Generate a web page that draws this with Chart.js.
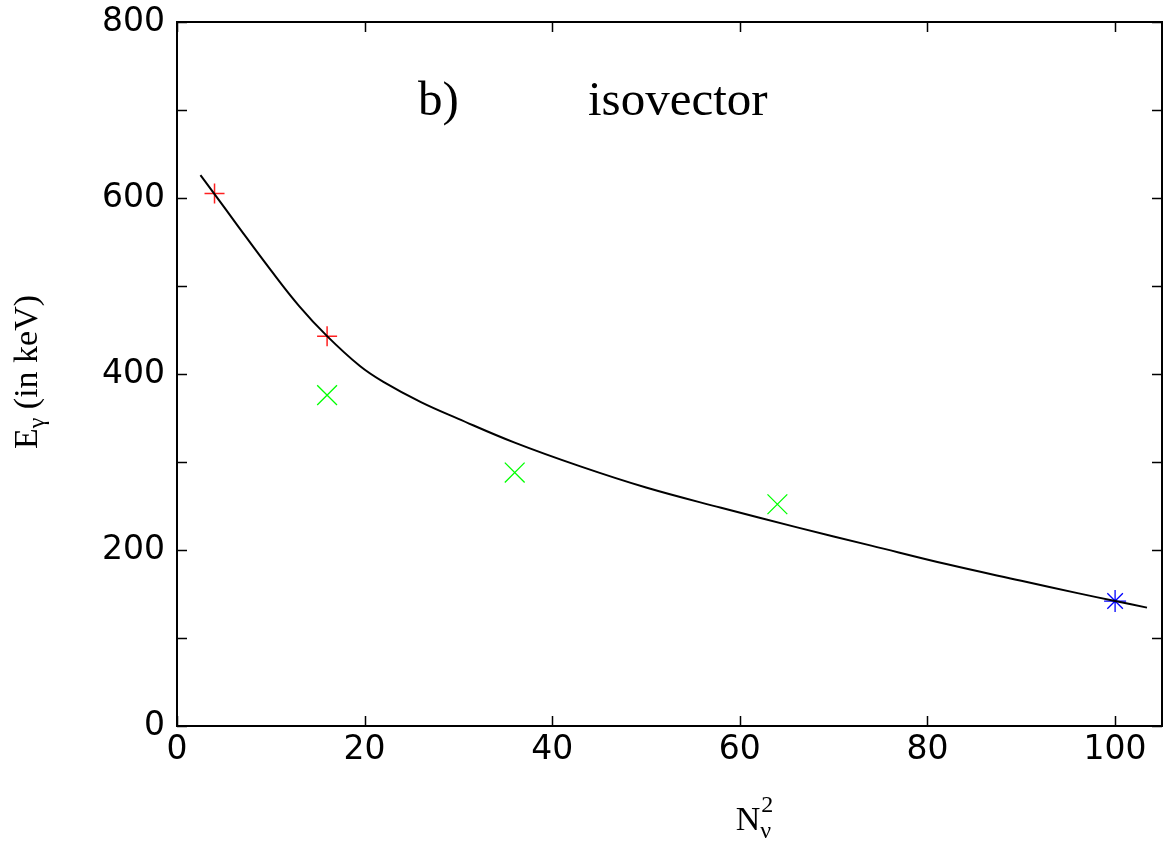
<!DOCTYPE html>
<html>
<head>
<meta charset="utf-8">
<script src="https://cdn.jsdelivr.net/npm/chart.js@4"></script>
<style>
  html, body { margin: 0; padding: 0; background: #fff; overflow: hidden; width: 1164px; height: 848px; }
  #c { display: block; }
</style>
</head>
<body>
<canvas id="c" width="1164" height="848"></canvas>
<script>
// Fitted curve E_gamma(N_nu^2), sampled along the line
const curveX = [2.5, 4, 6.4, 10, 13, 16, 19.5, 22, 26, 30, 36, 43, 50, 58, 66, 74, 82, 90, 96, 100, 103.4];
const curveY = [626, 604.5, 569.5, 518, 477.5, 443, 409, 391, 368, 349, 322, 295, 271, 248, 226, 205, 184, 165, 151, 142, 134.5];

// Measured points, three groups
const plusX = [4, 16];
const plusY = [605, 443];
const crossX = [16, 36, 64];
const crossY = [376, 288, 252];
const starX = [100];
const starY = [142];

// Axis ranges and tick values
const xRange = [0, 105];
const xTicks = [0, 20, 40, 60, 80, 100];
const yRange = [0, 800];
const yTicks = [0, 100, 200, 300, 400, 500, 600, 700, 800];
const yLabelStep = 200;

const toXY = (xs, ys) => xs.map((x, i) => ({ x: x, y: ys[i] }));

// Frame with inward ticks on all four sides, plus the axis titles and annotation
const framePlugin = {
  id: 'frame',
  afterDraw(chart) {
    const { ctx, chartArea: a, scales } = chart;
    const tick = 10;
    ctx.save();
    ctx.strokeStyle = '#000';
    ctx.lineWidth = 1.5;
    ctx.beginPath();
    scales.x.ticks.forEach(t => {
      const px = Math.round(scales.x.getPixelForValue(t.value)) + 0.5;
      ctx.moveTo(px, a.bottom); ctx.lineTo(px, a.bottom - tick);
      ctx.moveTo(px, a.top); ctx.lineTo(px, a.top + tick);
    });
    scales.y.ticks.forEach(t => {
      const py = Math.round(scales.y.getPixelForValue(t.value)) + 0.5;
      ctx.moveTo(a.left, py); ctx.lineTo(a.left + tick, py);
      ctx.moveTo(a.right, py); ctx.lineTo(a.right - tick, py);
    });
    ctx.stroke();
    ctx.lineWidth = 2;
    ctx.strokeRect(a.left, a.top, a.right - a.left, a.bottom - a.top);

    ctx.fillStyle = '#000';
    ctx.textBaseline = 'alphabetic';
    ctx.textAlign = 'left';

    // annotation inside the plot
    ctx.font = '49px "Liberation Serif"';
    ctx.fillText('b)', 418, 115);
    ctx.fillText('isovector', 588, 115);

    // y title: E_gamma (in keV), rotated
    const big = '34px "Liberation Serif"';
    const small = '24px "Liberation Serif"';
    ctx.font = big;
    const wE = ctx.measureText('E').width;
    const wRest = ctx.measureText(' (in keV)').width;
    ctx.font = small;
    const wG = ctx.measureText('\u03b3').width;
    const total = wE + wG + wRest;
    ctx.save();
    ctx.translate(37, 372);
    ctx.rotate(-Math.PI / 2);
    const x0 = -total / 2;
    ctx.font = big;
    ctx.fillText('E', x0, 0);
    ctx.font = small;
    ctx.fillText('\u03b3', x0 + wE, 7);
    ctx.font = big;
    ctx.fillText(' (in keV)', x0 + wE + wG, 0);
    ctx.restore();

    // x title: N_nu^2
    ctx.font = big;
    const wN = ctx.measureText('N').width;
    const cx = 748;
    const by = 830;
    ctx.fillText('N', cx - wN / 2, by);
    ctx.font = small;
    ctx.fillText('\u03bd', cx + wN / 2, by + 8);
    ctx.fillText('2', cx + wN / 2 + 1, by - 18);
    ctx.restore();
  }
};

const tickFont = { family: '"DejaVu Sans"', size: 33 };

new Chart(document.getElementById('c'), {
  type: 'scatter',
  data: {
    datasets: [
      {
        label: 'fit',
        data: toXY(curveX, curveY),
        showLine: true,
        borderColor: '#000',
        borderWidth: 2,
        pointRadius: 0,
        tension: 0.4,
        fill: false
      },
      {
        label: 'group 1',
        data: toXY(plusX, plusY),
        pointStyle: 'cross',
        pointRadius: 10,
        pointBorderColor: '#ff2020',
        pointBorderWidth: 1.5
      },
      {
        label: 'group 2',
        data: toXY(crossX, crossY),
        pointStyle: 'crossRot',
        pointRadius: 14,
        pointBorderColor: '#00ff00',
        pointBorderWidth: 1.3
      },
      {
        label: 'group 3',
        data: toXY(starX, starY),
        pointStyle: 'star',
        pointRadius: 11,
        pointBorderColor: '#0000ff',
        pointBorderWidth: 1.3
      }
    ]
  },
  options: {
    responsive: false,
    animation: false,
    devicePixelRatio: 1,
    layout: { autoPadding: false, padding: { left: 0, right: 2, top: 22, bottom: 0 } },
    plugins: {
      legend: { display: false },
      tooltip: { enabled: false },
      title: { display: false }
    },
    scales: {
      x: {
        type: 'linear',
        min: xRange[0],
        max: xRange[1],
        afterBuildTicks: s => { s.ticks = xTicks.map(v => ({ value: v })); },
        afterFit: s => { s.height = 122; s.paddingLeft = 0; s.paddingRight = 0; },
        grid: { display: false, drawTicks: false },
        border: { display: false },
        ticks: {
          padding: 5,
          color: '#000',
          font: tickFont,
          maxRotation: 0,
          autoSkip: false
        }
      },
      y: {
        type: 'linear',
        min: yRange[0],
        max: yRange[1],
        afterBuildTicks: s => { s.ticks = yTicks.map(v => ({ value: v })); },
        afterFit: s => { s.width = 177; s.paddingTop = 0; s.paddingBottom = 0; },
        grid: { display: false, drawTicks: false },
        border: { display: false },
        ticks: {
          padding: 12,
          color: '#000',
          font: tickFont,
          autoSkip: false,
          callback: v => (v % yLabelStep === 0 ? String(v) : '')
        }
      }
    }
  },
  plugins: [framePlugin]
});
</script>
</body>
</html>
